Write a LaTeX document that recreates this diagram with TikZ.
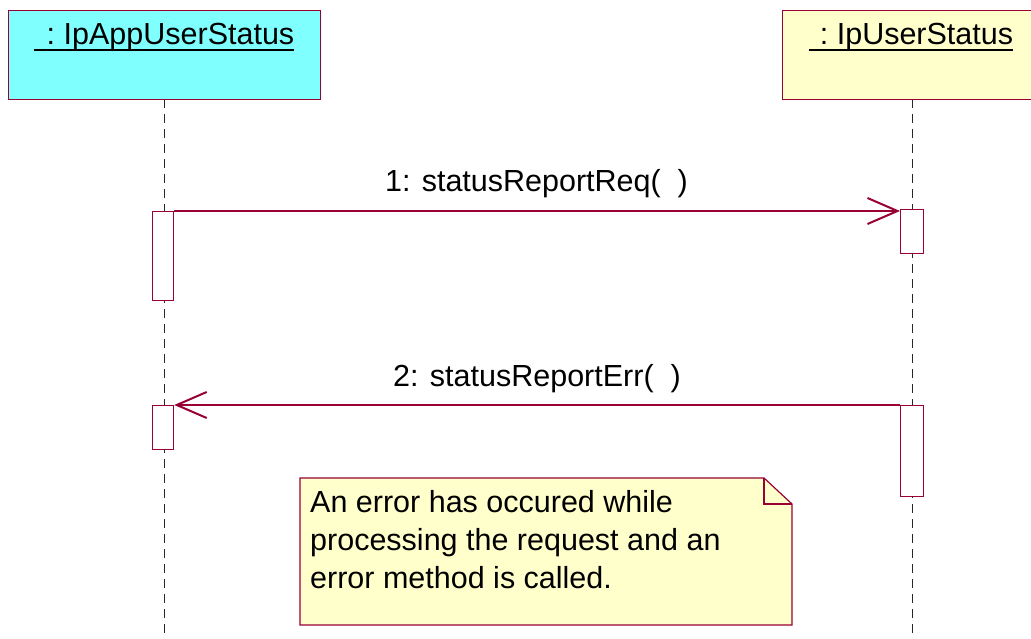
\documentclass[tikz,border=0pt]{standalone}
\usepackage{fontspec}
\setmainfont{Liberation Sans}
\usetikzlibrary{arrows.meta}
\definecolor{umlred}{RGB}{153,0,51}
\definecolor{umlcyan}{RGB}{128,255,255}
\definecolor{umlyellow}{RGB}{255,255,204}
\begin{document}
\begin{tikzpicture}[x=1pt,y=-1pt,
  txt/.style={font=\fontsize{30.5}{38}\selectfont, inner sep=0pt, text=black},
  objbox/.style={draw=umlred, line width=1.2pt, inner sep=0pt, anchor=north west},
  act/.style={draw=umlred, fill=white, line width=1.2pt, inner sep=0pt, anchor=north west},
  lifeline/.style={draw=black!85, line width=1pt, dash pattern=on 9pt off 6pt},
  msg/.style={draw=umlred, line width=1.1pt, -{Straight Barb[length=30pt, width=26pt, line width=2pt]}},
  uline/.style={draw=black, line width=2pt}]
\clip (0,0) rectangle (1031,639);
\useasboundingbox (0,0) rectangle (1031,639);

% lifelines
\coordinate (l1top) at (164,99);
\coordinate (l1bot) at (164,639);
\coordinate (l2top) at (912,99);
\coordinate (l2bot) at (912,639);
\draw[lifeline] (l1top) -- (l1bot);
\draw[lifeline] (l2top) -- (l2bot);

% objects
\node[objbox, fill=umlcyan, minimum width=312pt, minimum height=89pt] (o1) at (8,10) {};
\node[objbox, fill=umlyellow, minimum width=270pt, minimum height=89pt] (o2) at (782,10) {};
\node[txt, anchor=base] (t1) at (164,45) {\hspace{13pt}:\ IpAppUserStatus\hspace{2pt}};
\node[txt, anchor=base] (t2) at (911,45) {\hspace{11pt}:\ IpUserStatus\hspace{3pt}};
\draw[uline] ([yshift=-5pt]t1.base west) -- ([yshift=-5pt]t1.base east);
\draw[uline] ([yshift=-5pt]t2.base west) -- ([yshift=-5pt]t2.base east);

% activations
\node[act, minimum width=21pt, minimum height=89pt] (a1) at (152,211) {};
\node[act, minimum width=23pt, minimum height=44pt] (b1) at (900,209) {};
\node[act, minimum width=23pt, minimum height=91pt] (b2) at (900,405) {};
\node[act, minimum width=21pt, minimum height=44pt] (a2) at (152,405) {};

% messages
\draw[msg] (a1.north east) -- (a1.north east -| b1.west);
\node[txt, anchor=base] (m1) at (536.5,192) {1: statusReportReq(\ \ )};
\draw[msg] (b2.north west) -- (b2.north west -| a2.east);
\node[txt, anchor=base] (m2) at (537,386) {2: statusReportErr(\ \ )};

% note
\draw[draw=umlred, fill=umlyellow, line width=1.2pt]
  (300,478) -- (764,478) -- (792,504) -- (792,625) -- (300,625) -- cycle;
\draw[draw=umlred, line width=1.2pt] (764,478) -- (764,504) -- (792,504);
\node[txt, anchor=north west, align=left] (n1) at (310,490)
  {An error has occured while\\processing the request and an\\error method is called.};
\end{tikzpicture}
\end{document}
